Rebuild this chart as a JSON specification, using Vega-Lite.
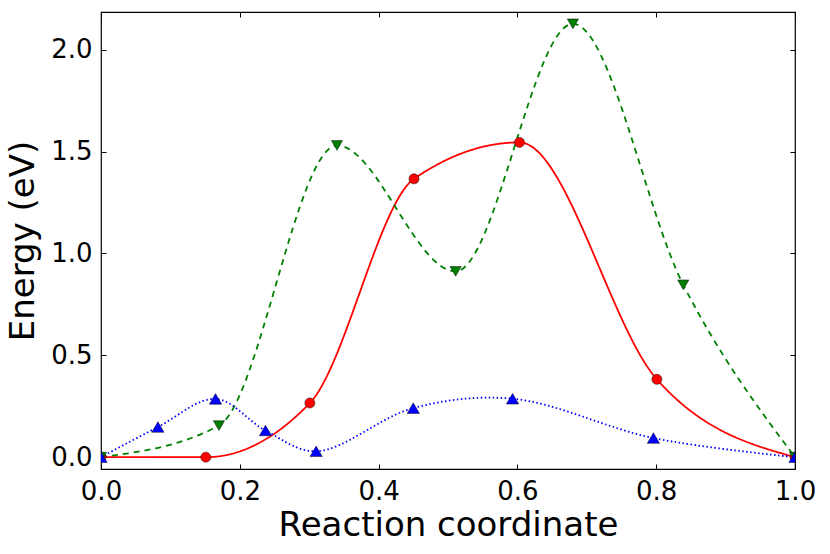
{
  "$schema": "https://vega.github.io/schema/vega-lite/v6.json",
  "width": 694,
  "height": 457,
  "autosize": {"type": "none"},
  "padding": {"left": 101, "top": 12, "right": 35, "bottom": 85},
  "background": "white",
  "data": {
    "values": [
      {"path": "path 1", "s": 0.0, "E": 0.0},
      {"path": "path 1", "s": 0.151, "E": 0.0},
      {"path": "path 1", "s": 0.301, "E": 0.266},
      {"path": "path 1", "s": 0.451, "E": 1.366},
      {"path": "path 1", "s": 0.603, "E": 1.545},
      {"path": "path 1", "s": 0.801, "E": 0.382},
      {"path": "path 1", "s": 1.0, "E": 0.0},
      {"path": "path 2", "s": 0.0, "E": 0.0},
      {"path": "path 2", "s": 0.170, "E": 0.155},
      {"path": "path 2", "s": 0.340, "E": 1.53},
      {"path": "path 2", "s": 0.511, "E": 0.912},
      {"path": "path 2", "s": 0.680, "E": 2.127},
      {"path": "path 2", "s": 0.839, "E": 0.846},
      {"path": "path 2", "s": 1.0, "E": 0.0},
      {"path": "path 3", "s": 0.0, "E": 0.0},
      {"path": "path 3", "s": 0.082, "E": 0.148},
      {"path": "path 3", "s": 0.165, "E": 0.286},
      {"path": "path 3", "s": 0.237, "E": 0.131},
      {"path": "path 3", "s": 0.310, "E": 0.029},
      {"path": "path 3", "s": 0.450, "E": 0.241},
      {"path": "path 3", "s": 0.593, "E": 0.287},
      {"path": "path 3", "s": 0.796, "E": 0.094},
      {"path": "path 3", "s": 1.0, "E": 0.0}
    ]
  },
  "encoding": {
    "x": {
      "field": "s",
      "type": "quantitative",
      "scale": {"domain": [0, 1], "nice": false},
      "axis": null
    },
    "y": {
      "field": "E",
      "type": "quantitative",
      "scale": {"domain": [-0.058, 2.185], "nice": false, "zero": false},
      "axis": null
    },
    "color": {
      "field": "path",
      "type": "nominal",
      "scale": {"domain": ["path 1", "path 2", "path 3"], "range": ["#ff0000", "#008000", "#0000ff"]},
      "legend": null
    },
    "strokeDash": {
      "field": "path",
      "type": "nominal",
      "scale": {"domain": ["path 1", "path 2", "path 3"], "range": [[1, 0], [6, 5], [1.5, 2.5]]},
      "legend": null
    }
  },
  "layer": [
    {
      "transform": [{"filter": "datum.path !== 'path 3'"}],
      "mark": {"type": "line", "interpolate": "monotone", "strokeWidth": 1.8, "clip": true},
      "encoding": {
        "x": {
          "field": "s",
          "type": "quantitative",
          "axis": {
            "orient": "bottom",
            "values": [0, 0.2, 0.4, 0.6, 0.8, 1.0],
            "format": ".1f",
            "title": "Reaction coordinate",
            "grid": false,
            "domain": false,
            "tickSize": -5,
            "labelPadding": 14,
            "labelFlush": false,
            "labelOverlap": false,
            "titlePadding": 4
          }
        },
        "y": {
          "field": "E",
          "type": "quantitative",
          "axis": {
            "orient": "left",
            "values": [0, 0.5, 1.0, 1.5, 2.0],
            "format": ".1f",
            "title": "Energy (eV)",
            "grid": false,
            "domain": false,
            "tickSize": -5,
            "labelPadding": 14,
            "labelFlush": false,
            "labelOverlap": false,
            "titlePadding": 10
          }
        }
      }
    },
    {
      "transform": [{"filter": "datum.path === 'path 3'"}],
      "mark": {"type": "line", "interpolate": "catmull-rom", "strokeWidth": 1.8, "clip": true},
      "encoding": {
        "x": {
          "field": "s",
          "type": "quantitative",
          "axis": {"orient": "top", "values": [0, 0.2, 0.4, 0.6, 0.8, 1.0], "labels": false, "title": null, "grid": false, "domain": false, "tickSize": -5}
        },
        "y": {
          "field": "E",
          "type": "quantitative",
          "axis": {"orient": "right", "values": [0, 0.5, 1.0, 1.5, 2.0], "labels": false, "title": null, "grid": false, "domain": false, "tickSize": -5}
        }
      }
    },
    {
      "mark": {"type": "point", "filled": true, "opacity": 1, "stroke": "black", "strokeWidth": 0.5, "clip": true},
      "encoding": {
        "shape": {
          "field": "path",
          "type": "nominal",
          "scale": {"domain": ["path 1", "path 2", "path 3"], "range": ["circle", "triangle-down", "triangle-up"]},
          "legend": null
        },
        "size": {
          "field": "path",
          "type": "nominal",
          "scale": {"domain": ["path 1", "path 2", "path 3"], "range": [100, 150, 150]},
          "legend": null
        },
        "strokeDash": {"value": [1, 0]}
      }
    }
  ],
  "resolve": {"axis": {"x": "independent", "y": "independent"}},
  "config": {
    "view": {"stroke": "black", "strokeWidth": 1.2},
    "axis": {
      "labelFont": "DejaVu Sans",
      "titleFont": "DejaVu Sans",
      "labelFontSize": 26,
      "titleFontSize": 34,
      "titleFontWeight": "normal",
      "labelColor": "black",
      "titleColor": "black",
      "tickColor": "black",
      "tickWidth": 1
    }
  }
}
